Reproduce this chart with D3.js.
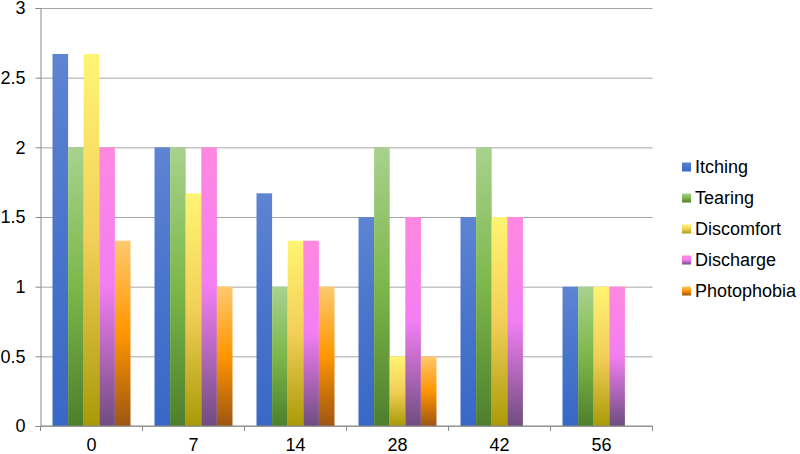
<!DOCTYPE html>
<html lang="en">
<head>
  <meta charset="UTF-8">
  <title>Symptom scores</title>
  <script src="https://cdnjs.cloudflare.com/ajax/libs/d3/7.8.5/d3.min.js"></script>
  <style>
    body { margin: 0; background: #fff; }
    text { font-family: "Liberation Sans", Arial, sans-serif; fill: #000; }
  </style>
</head>
<body>
<svg width="800" height="454" id="canvas"></svg>
<script>
    // days
    const categories = ["0", "7", "14", "28", "42", "56"];
    const seriesNames = ["Itching", "Tearing", "Discomfort", "Discharge", "Photophobia"];
    const itching     = [2.67, 2.0, 1.67, 1.5, 1.5, 1.0];
    const tearing     = [2.0, 2.0, 1.0, 2.0, 2.0, 1.0];
    const discomfort  = [2.67, 1.67, 1.33, 0.5, 1.5, 1.0];
    const discharge   = [2.0, 2.0, 1.33, 1.5, 1.5, 1.0];
    const photophobia = [1.33, 1.0, 1.0, 0.5, 0, 0];
    const yTicks = [0, 0.5, 1, 1.5, 2, 2.5, 3];

    const seriesValues = [itching, tearing, discomfort, discharge, photophobia];

    // gradient stops per series (top -> middle -> bottom)
    const gradients = [
        ["#5e84d2", "#4874cb", "#3868c6"],
        ["#a8d28e", "#7cb74a", "#4e7f2c"],
        ["#fff474", "#f2cf58", "#a99a08"],
        ["#ff88e0", "#f27ef2", "#6f4d80"],
        ["#ffc96e", "#ff9500", "#9e5612"]
    ];

    const svg = d3.select("#canvas");
    const plotLeft = 40.5, plotRight = 652.5, plotTop = 8, plotBottom = 426;

    const x0 = d3.scaleBand().domain(categories).range([plotLeft, plotRight]);
    const x1 = d3.scaleBand().domain(seriesNames)
        .range([12, x0.bandwidth() - 12]);
    const y = d3.scaleLinear().domain([0, 3]).range([plotBottom, plotTop]);

    const defs = svg.append("defs");
    seriesNames.forEach((s, i) => {
        const g = defs.append("linearGradient")
            .attr("id", "grad" + i)
            .attr("x1", 0).attr("y1", 0).attr("x2", 0).attr("y2", 1);
        g.append("stop").attr("offset", "0%").attr("stop-color", gradients[i][0]);
        g.append("stop").attr("offset", "50%").attr("stop-color", gradients[i][1]);
        g.append("stop").attr("offset", "100%").attr("stop-color", gradients[i][2]);
    });

    // gridlines
    svg.append("g")
        .attr("transform", "translate(" + plotLeft + ",0)")
        .call(d3.axisLeft(y).tickValues(yTicks).tickSize(-(plotRight - plotLeft)).tickFormat(""))
        .call(g => g.select(".domain").remove())
        .call(g => g.selectAll("line").attr("stroke", "#a6a6a6"));

    // bars
    const groups = svg.append("g").selectAll("g")
        .data(categories)
        .join("g")
        .attr("transform", d => "translate(" + x0(d) + ",0)");

    groups.selectAll("rect")
        .data((d, ci) => seriesNames.map((s, si) => ({ s: s, si: si, v: seriesValues[si][ci] })))
        .join("rect")
        .filter(d => d.v > 0)
        .attr("x", d => x1(d.s))
        .attr("y", d => y(d.v))
        .attr("width", x1.bandwidth())
        .attr("height", d => y(0) - y(d.v))
        .attr("fill", d => "url(#grad" + d.si + ")");

    // y axis
    svg.append("g")
        .attr("transform", "translate(" + plotLeft + ",0)")
        .call(d3.axisLeft(y).tickValues(yTicks).tickSize(5).tickPadding(10).tickFormat(d3.format("")))
        .call(g => g.select(".domain").attr("stroke", "#888"))
        .call(g => g.selectAll("line").attr("stroke", "#888"))
        .call(g => g.selectAll("text").attr("font-size", 18).attr("fill", "#000")
            .style("font-family", "'Liberation Sans', Arial, sans-serif"));

    // x axis: ticks on category boundaries
    const xAxis = svg.append("g").attr("transform", "translate(0," + plotBottom + ")");
    xAxis.append("line")
        .attr("x1", plotLeft).attr("x2", plotRight)
        .attr("stroke", "#888");
    xAxis.selectAll("line.tick")
        .data(categories.concat(["end"]))
        .join("line")
        .attr("class", "tick")
        .attr("x1", (d, i) => i < categories.length ? x0(d) : plotRight)
        .attr("x2", (d, i) => i < categories.length ? x0(d) : plotRight)
        .attr("y1", 0).attr("y2", 5)
        .attr("stroke", "#888");
    xAxis.selectAll("text")
        .data(categories)
        .join("text")
        .attr("x", d => x0(d) + x0.bandwidth() / 2)
        .attr("y", 25)
        .attr("text-anchor", "middle")
        .attr("font-size", 18)
        .text(d => d);

    // legend
    const legend = svg.append("g").attr("transform", "translate(682,167)");
    const rows = legend.selectAll("g")
        .data(seriesNames)
        .join("g")
        .attr("transform", (d, i) => "translate(0," + (i * 31) + ")");
    rows.append("rect")
        .attr("x", 0).attr("y", -4.5)
        .attr("width", 9).attr("height", 9)
        .attr("fill", (d, i) => "url(#grad" + i + ")");
    rows.append("text")
        .attr("x", 13)
        .attr("y", 0)
        .attr("dy", "0.35em")
        .attr("font-size", 18)
        .text(d => d);
</script>
</body>
</html>
